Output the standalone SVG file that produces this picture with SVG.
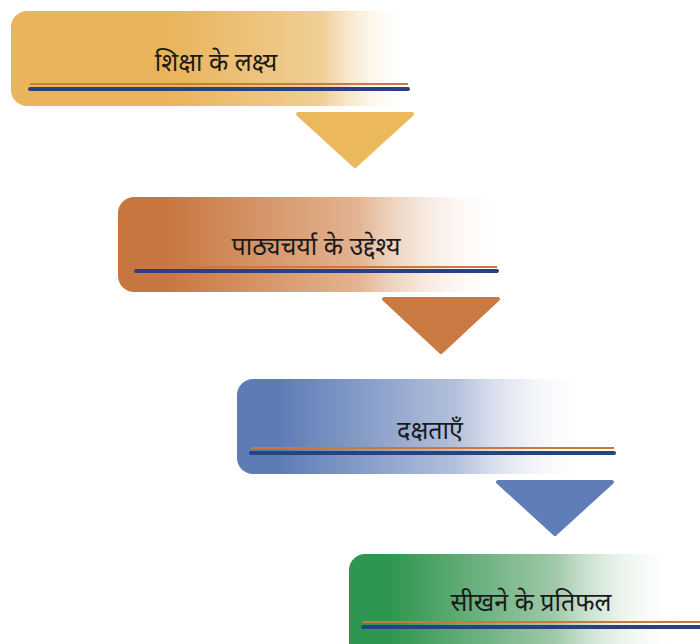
<svg xmlns="http://www.w3.org/2000/svg" width="700" height="644" viewBox="0 0 700 644">
<defs>
<linearGradient id="g1" x1="11" y1="0" x2="410" y2="0" gradientUnits="userSpaceOnUse">
<stop offset="0" stop-color="#E9B45B"/><stop offset="0.4" stop-color="#E9B45B"/><stop offset="0.78" stop-color="#F0CF95"/><stop offset="1" stop-color="#FFFFFF" stop-opacity="0"/>
</linearGradient>
<linearGradient id="g2" x1="118" y1="0" x2="505" y2="0" gradientUnits="userSpaceOnUse">
<stop offset="0" stop-color="#C8763F"/><stop offset="0.12" stop-color="#C8763F"/><stop offset="0.62" stop-color="#E2B491"/><stop offset="1" stop-color="#FFFFFF" stop-opacity="0"/>
</linearGradient>
<linearGradient id="g3" x1="237" y1="0" x2="590" y2="0" gradientUnits="userSpaceOnUse">
<stop offset="0" stop-color="#5D7CB6"/><stop offset="0.12" stop-color="#5D7CB6"/><stop offset="0.62" stop-color="#B3C0DC"/><stop offset="1" stop-color="#FFFFFF" stop-opacity="0"/>
</linearGradient>
<linearGradient id="g4" x1="349" y1="0" x2="680" y2="0" gradientUnits="userSpaceOnUse">
<stop offset="0" stop-color="#2E9650"/><stop offset="0.12" stop-color="#2E9650"/><stop offset="0.62" stop-color="#9FC8A8"/><stop offset="1" stop-color="#FFFFFF" stop-opacity="0"/>
</linearGradient>
</defs>
<style>
.lbl{font-family:"Noto Sans","Noto Sans Devanagari","Lohit Devanagari",sans-serif;font-size:25px;fill:#1a1a1a;text-anchor:middle}
.lo{stroke:#C97A3C;stroke-width:2;fill:none}
.lb{stroke:#2B3F82;stroke-width:4;fill:none;stroke-linecap:round}
</style>
<g id="node-1">
<rect x="11" y="11" width="420" height="95" rx="16" fill="url(#g1)"/>
<text class="lbl" x="216" y="71">शिक्षा के लक्ष्य</text>
<line class="lo" x1="30" y1="84" x2="408" y2="84"/>
<line class="lb" x1="30" y1="89" x2="408" y2="89"/>
</g>
<g id="node-2">
<rect x="118" y="197" width="400" height="95" rx="16" fill="url(#g2)"/>
<text class="lbl" x="316" y="255">पाठ्यचर्या के उद्देश्य</text>
<line class="lo" x1="136" y1="267" x2="497" y2="267"/>
<line class="lb" x1="136" y1="271" x2="497" y2="271"/>
</g>
<g id="node-3">
<rect x="237" y="379" width="370" height="95" rx="16" fill="url(#g3)"/>
<text class="lbl" x="430" y="439">दक्षताएँ</text>
<line class="lo" x1="251" y1="448" x2="614" y2="448"/>
<line class="lb" x1="251" y1="453" x2="614" y2="453"/>
</g>
<g id="node-4">
<rect x="349" y="554" width="380" height="110" rx="16" fill="url(#g4)"/>
<text class="lbl" x="531" y="611">सीखने के प्रतिफल</text>
<line class="lo" x1="363" y1="622" x2="700" y2="622"/>
<line class="lb" x1="363" y1="627" x2="700" y2="627"/>
</g>
<g id="connectors" stroke-linejoin="round" stroke-width="4">
<polygon points="298,114 412,114 355,166" fill="#EBB95C" stroke="#EBB95C"/>
<polygon points="384,299 498,299 441,352" fill="#C97A42" stroke="#C97A42"/>
<polygon points="498,482 612,482 555,534" fill="#5F7DB7" stroke="#5F7DB7"/>
</g>
</svg>
